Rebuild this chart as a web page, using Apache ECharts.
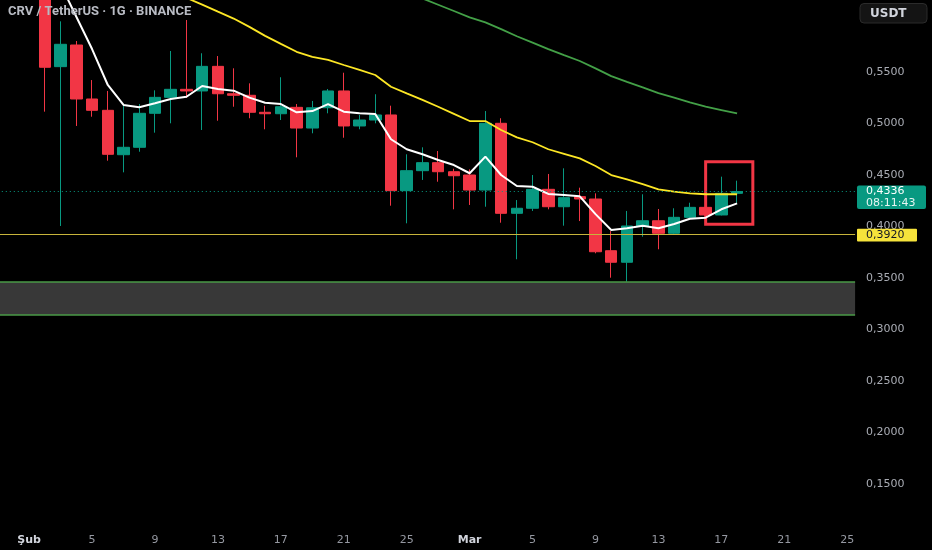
<!DOCTYPE html>
<html>
<head>
<meta charset="utf-8">
<script src="https://cdn.jsdelivr.net/npm/echarts/dist/echarts.min.js"></script>
<style>
html,body{margin:0;padding:0;background:#000;}
#c{width:932px;height:550px;}
</style>
</head>
<body>
<div id="c"></div>
<script>
// ---- categories (daily) ----
const categories = [
  '01-30','01-31',
  '02-01','02-02','02-03','02-04','02-05','02-06','02-07','02-08','02-09','02-10',
  '02-11','02-12','02-13','02-14','02-15','02-16','02-17','02-18','02-19','02-20',
  '02-21','02-22','02-23','02-24','02-25','02-26','02-27','02-28',
  '03-01','03-02','03-03','03-04','03-05','03-06','03-07','03-08','03-09','03-10',
  '03-11','03-12','03-13','03-14','03-15','03-16','03-17','03-18','03-19','03-20',
  '03-21','03-22','03-23','03-24','03-25'
];
const tickDates  = ['02-01','02-05','02-09','02-13','02-17','02-21','02-25','03-01','03-05','03-09','03-13','03-17','03-21','03-25'];
const tickLabels = ['Şub','5','9','13','17','21','25','Mar','5','9','13','17','21','25'];
const monthTicks = ['Şub','Mar'];

// ---- candles, 02-02 .. 03-18 ----
const candleStart = '02-02';
const opens  = [0.6600,0.5549,0.5759,0.5235,0.5125,0.4694,0.4766,0.5096,0.5251,0.5329,0.5313,0.5552,0.5286,0.5271,0.5106,0.5092,0.5154,0.4953,0.5150,0.5313,0.4973,0.5031,0.5080,0.4345,0.4539,0.4617,0.4529,0.4497,0.4351,0.4999,0.4125,0.4174,0.4358,0.4189,0.4287,0.4264,0.3762,0.3650,0.4002,0.4053,0.3931,0.4086,0.4183,0.4109,0.4319];
const closes = [0.5543,0.5766,0.5235,0.5125,0.4698,0.4766,0.5096,0.5251,0.5329,0.5313,0.5552,0.5286,0.5271,0.5106,0.5092,0.5160,0.4953,0.5150,0.5313,0.4973,0.5031,0.5080,0.4345,0.4539,0.4617,0.4529,0.4490,0.4351,0.4999,0.4125,0.4174,0.4358,0.4189,0.4277,0.4264,0.3752,0.3650,0.4002,0.4053,0.3931,0.4086,0.4183,0.4109,0.4319,0.4336];
const lows   = [0.5112,0.4002,0.4973,0.5063,0.4636,0.4523,0.4723,0.4908,0.4999,0.5245,0.4934,0.5024,0.5160,0.5048,0.4941,0.5031,0.4669,0.4902,0.5096,0.4859,0.4941,0.4999,0.4199,0.4028,0.4449,0.4432,0.4164,0.4206,0.4189,0.4034,0.3679,0.4148,0.4164,0.4005,0.4050,0.3737,0.3500,0.3461,0.3898,0.3776,0.3915,0.4080,0.4099,0.4105,0.4228];
const highs  = [0.6800,0.5989,0.5798,0.5419,0.5313,0.5174,0.5186,0.5319,0.5701,0.6002,0.5679,0.5652,0.5533,0.5387,0.5170,0.5446,0.5186,0.5216,0.5332,0.5490,0.5080,0.5281,0.5170,0.4698,0.4766,0.4730,0.4558,0.4552,0.5118,0.5048,0.4254,0.4497,0.4507,0.4562,0.4374,0.4319,0.3953,0.4148,0.4310,0.4167,0.4174,0.4228,0.4190,0.4481,0.4442];

// ---- moving averages ----
const fastMaStart = '02-03';
const fastMa = [0.6347,0.6034,0.5720,0.5371,0.5177,0.5154,0.5193,0.5235,0.5257,0.5361,0.5332,0.5316,0.5248,0.5199,0.5186,0.5106,0.5118,0.5186,0.5112,0.5096,0.5089,0.4844,0.4747,0.4698,0.4643,0.4594,0.4514,0.4675,0.4497,0.4390,0.4383,0.4313,0.4303,0.4290,0.4117,0.3963,0.3980,0.4005,0.3980,0.4021,0.4073,0.4083,0.4164,0.4222];
const midMaStart = '02-10';
const midMa = [0.6286,0.6217,0.6151,0.6083,0.6016,0.5935,0.5848,0.5770,0.5693,0.5643,0.5614,0.5565,0.5517,0.5468,0.5354,0.5290,0.5227,0.5160,0.5091,0.5021,0.5021,0.4934,0.4863,0.4815,0.4747,0.4703,0.4658,0.4584,0.4497,0.4455,0.4408,0.4358,0.4335,0.4319,0.4310,0.4310,0.4310];
const slowMaStart = '02-25';
const slowMa = [0.6272,0.6211,0.6150,0.6089,0.6028,0.5979,0.5914,0.5844,0.5783,0.5719,0.5661,0.5604,0.5532,0.5457,0.5401,0.5348,0.5292,0.5248,0.5202,0.5160,0.5128,0.5096];

// ---- levels / annotations ----
const lastPrice = 0.4336;
const lastCountdown = '08:11:43';
const levelPrice = 0.3920;
const zoneTop = 0.3458, zoneBottom = 0.3138;
const boxFrom = ['03-16', 0.4626], boxTo = ['03-19', 0.4020];
const titleText = 'CRV / TetherUS · 1G · BINANCE';
const currencyText = 'USDT';

function align(start, values) {
  const s = categories.indexOf(start);
  return categories.map((c, i) => (i >= s && i - s < values.length) ? values[i - s] : '-');
}
const cs = categories.indexOf(candleStart);
const candleData = categories.map((c, i) => {
  const k = i - cs;
  if (k < 0 || k >= opens.length) return '-';
  return [opens[k], closes[k], lows[k], highs[k]];
});
const fmtPrice = v => v.toFixed(4).replace('.', ',');

const FONT = 'DejaVu Sans';
const chart = echarts.init(document.getElementById('c'), null, {renderer: 'canvas'});
const option = {
  animation: false,
  backgroundColor: '#000000',
  title: {
    text: titleText, left: 8, top: 5, padding: 0,
    textStyle: {color: '#b8bbc3', fontSize: 13, fontWeight: 'bold', fontFamily: 'Roboto'}
  },
  grid: {left: -10.2, right: 76.9, top: -0.4, bottom: 14.8, containLabel: false, outerBoundsMode: 'none'},
  xAxis: {
    type: 'category', data: categories, boundaryGap: true,
    axisLine: {show: false}, axisTick: {show: false}, splitLine: {show: false},
    axisLabel: {
      interval: (i, v) => tickDates.indexOf(v) >= 0,
      formatter: v => {
        const t = tickLabels[tickDates.indexOf(v)];
        return monthTicks.indexOf(t) >= 0 ? '{m|' + t + '}' : t;
      },
      color: '#9598a1', fontSize: 11, fontFamily: FONT, margin: 5, verticalAlign: 'middle',
      rich: {m: {color: '#d1d4dc', fontWeight: 'bold', fontSize: 11, fontFamily: FONT}}
    }
  },
  yAxis: {
    type: 'value', position: 'right', min: 0.10, max: 0.62, interval: 0.05, scale: false,
    axisLine: {show: false}, axisTick: {show: false}, splitLine: {show: false},
    axisLabel: {
      formatter: v => (v < 0.14 || v > 0.56) ? '' : fmtPrice(v),
      color: '#a9acb4', fontSize: 11, fontFamily: FONT, margin: 11, align: 'left'
    }
  },
  series: [
    {
      type: 'candlestick', data: candleData, barWidth: 12,
      itemStyle: {color: '#089981', color0: '#f23645', borderColor: '#089981', borderColor0: '#f23645', borderWidth: 1},
      markArea: {
        silent: true,
        data: [
          [{yAxis: zoneTop, itemStyle: {color: '#383838'}}, {yAxis: zoneBottom}],
          [{coord: boxFrom, itemStyle: {color: 'rgba(0,0,0,0)', borderColor: '#f23645', borderWidth: 3}}, {coord: boxTo}]
        ]
      },
      markLine: {
        silent: true, symbol: ['none', 'none'], label: {show: false}, precision: 4,
        data: [
          {yAxis: zoneTop, lineStyle: {color: '#4a9a47', width: 1.5, type: 'solid'}},
          {yAxis: zoneBottom, lineStyle: {color: '#4a9a47', width: 1.5, type: 'solid'}},
          {yAxis: levelPrice, lineStyle: {color: '#c7b43b', width: 1.2, type: 'solid'}},
          {yAxis: lastPrice, lineStyle: {color: '#089981', width: 1, type: [1, 3]}}
        ]
      }
    },
    {type: 'line', data: align(slowMaStart, slowMa), symbol: 'none', smooth: false,
     lineStyle: {color: '#43a047', width: 1.8}},
    {type: 'line', data: align(midMaStart, midMa), symbol: 'none', smooth: false,
     lineStyle: {color: '#fde725', width: 1.8}},
    {type: 'line', data: align(fastMaStart, fastMa), symbol: 'none', smooth: false,
     lineStyle: {color: '#ffffff', width: 2}}
  ]
};
chart.setOption(option);

const yLast = chart.convertToPixel({yAxisIndex: 0}, lastPrice);
const yLvl = chart.convertToPixel({yAxisIndex: 0}, levelPrice);
chart.setOption({
  graphic: [
    {type: 'rect', z: 100, shape: {x: 860, y: 3.5, width: 67, height: 19.5, r: 4},
     style: {fill: '#141414', stroke: '#2b2b2b', lineWidth: 1}},
    {type: 'text', z: 101, x: 870, y: 13.5,
     style: {text: currencyText, fill: '#d1d4dc', font: 'bold 12px ' + FONT, verticalAlign: 'middle'}},
    {type: 'rect', z: 100, shape: {x: 857, y: yLast - 6, width: 69, height: 23.3, r: 2},
     style: {fill: '#089981'}},
    {type: 'text', z: 101, x: 866, y: yLast,
     style: {text: fmtPrice(lastPrice), fill: '#ffffff', font: '11px ' + FONT, verticalAlign: 'middle'}},
    {type: 'text', z: 101, x: 866, y: yLast + 11.5,
     style: {text: lastCountdown, fill: '#e6f5f2', font: '11px ' + FONT, verticalAlign: 'middle'}},
    {type: 'rect', z: 100, shape: {x: 857, y: yLvl - 5.6, width: 60, height: 12.7, r: 1},
     style: {fill: '#f6e33b'}},
    {type: 'text', z: 101, x: 866, y: yLvl + 0.8,
     style: {text: fmtPrice(levelPrice), fill: '#131722', font: '11px ' + FONT, verticalAlign: 'middle'}}
  ]
});
</script>
</body>
</html>
